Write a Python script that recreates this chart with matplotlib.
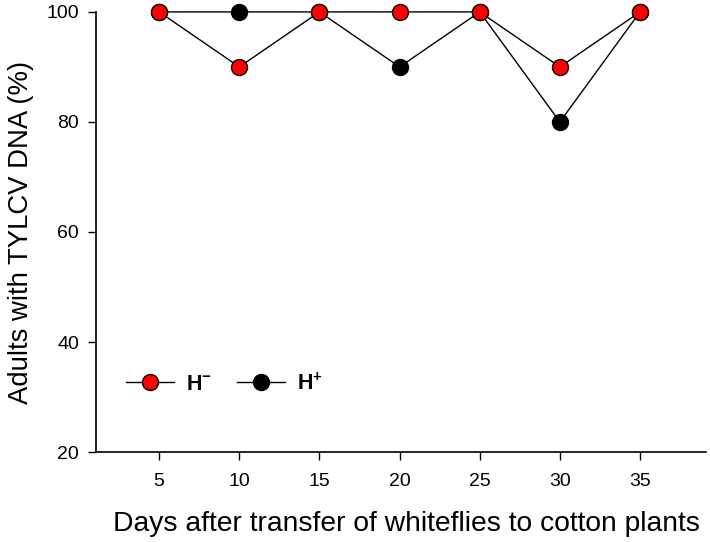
import numpy as np
import matplotlib.pyplot as plt

plt.rcParams['font.family'] = ['Liberation Sans', 'DejaVu Sans']
plt.rcParams['mathtext.fontset'] = 'custom'
plt.rcParams['mathtext.rm'] = 'Liberation Sans'
plt.rcParams['mathtext.bf'] = 'Liberation Sans:bold'

days = [5, 10, 15, 20, 25, 30, 35]
h_minus = [100, 90, 100, 100, 100, 90, 100]
h_plus = [100, 100, 100, 90, 100, 80, 100]

fig = plt.figure(figsize=(7.1, 5.42), dpi=100)
ax = fig.add_axes([0.135, 0.166, 0.859, 0.812])

ax.plot(days, h_plus, color='black', lw=1, marker='o', ms=11.5,
        mfc='black', mec='black', mew=1, label=r'$\mathbf{H^{+}}$', zorder=3, clip_on=False)
ax.plot(days, h_minus, color='black', lw=1, marker='o', ms=11.5,
        mfc='red', mec='black', mew=1, label=r'$\mathbf{H^{-}}$', zorder=4, clip_on=False)

ax.set_xlim(1.05, 39.1)
ax.set_ylim(20, 100)
ax.set_xticks(days)
ax.set_yticks([20, 40, 60, 80, 100])
ax.tick_params(direction='out', length=6, width=1, labelsize=14, pad=6)
ax.tick_params(axis='x', pad=9)
for s in ['top', 'right']:
    ax.spines[s].set_visible(False)
ax.spines['left'].set_linewidth(1.2)
ax.spines['bottom'].set_linewidth(1.2)

ax.set_xlabel('Days after transfer of whiteflies to cotton plants', fontsize=20.3)
ax.xaxis.set_label_coords(0.51, -0.133)
ax.set_ylabel('Adults with TYLCV DNA (%)', fontsize=19.8, labelpad=9)

handles, labels = ax.get_legend_handles_labels()
ax.legend(handles[::-1], labels[::-1], loc='lower left', bbox_to_anchor=(0.017, 0.086),
          ncol=2, frameon=False, fontsize=15.5, handlelength=2.25, columnspacing=1.15,
          handletextpad=0.55)

fig.savefig('out.png', dpi=100)
